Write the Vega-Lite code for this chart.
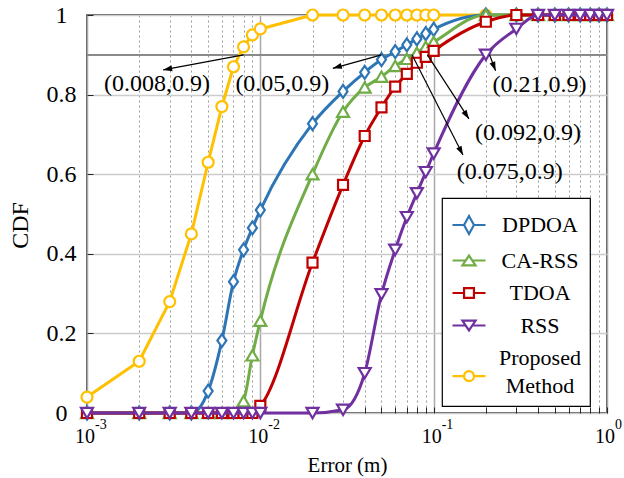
{
  "$schema": "https://vega.github.io/schema/vega-lite/v6.json",
  "width": 520,
  "height": 398,
  "autosize": {"type": "none"},
  "padding": {"left": 87, "top": 15, "right": 17, "bottom": 65},
  "background": "white",
  "config": {
    "font": "'Liberation Serif', 'Times New Roman', Times, serif",
    "view": {"stroke": "#262626", "strokeWidth": 1.5},
    "axis": {"labelFont": "'Liberation Serif', 'Times New Roman', Times, serif", "titleFont": "'Liberation Serif', 'Times New Roman', Times, serif", "labelColor": "black", "titleColor": "black", "titleFontWeight": "normal"},
    "legend": {"labelFont": "'Liberation Serif', 'Times New Roman', Times, serif"},
    "text": {"font": "'Liberation Serif', 'Times New Roman', Times, serif", "color": "black"}
  },
  "datasets": {
    "cdf": [
      {"m": "Proposed Method", "e": 0.001, "p": 0.04}, {"m": "Proposed Method", "e": 0.002, "p": 0.13}, {"m": "Proposed Method", "e": 0.003, "p": 0.28}, {"m": "Proposed Method", "e": 0.004, "p": 0.45}, {"m": "Proposed Method", "e": 0.005, "p": 0.63}, {"m": "Proposed Method", "e": 0.006, "p": 0.77}, {"m": "Proposed Method", "e": 0.007, "p": 0.87}, {"m": "Proposed Method", "e": 0.008, "p": 0.92}, {"m": "Proposed Method", "e": 0.009, "p": 0.95}, {"m": "Proposed Method", "e": 0.01, "p": 0.965},
      {"m": "Proposed Method", "e": 0.02, "p": 1}, {"m": "Proposed Method", "e": 0.03, "p": 1}, {"m": "Proposed Method", "e": 0.04, "p": 1}, {"m": "Proposed Method", "e": 0.05, "p": 1}, {"m": "Proposed Method", "e": 0.06, "p": 1}, {"m": "Proposed Method", "e": 0.07, "p": 1}, {"m": "Proposed Method", "e": 0.08, "p": 1}, {"m": "Proposed Method", "e": 0.09, "p": 1}, {"m": "Proposed Method", "e": 0.1, "p": 1},
      {"m": "Proposed Method", "e": 0.2, "p": 1}, {"m": "Proposed Method", "e": 0.3, "p": 1}, {"m": "Proposed Method", "e": 0.4, "p": 1}, {"m": "Proposed Method", "e": 0.5, "p": 1}, {"m": "Proposed Method", "e": 0.6, "p": 1}, {"m": "Proposed Method", "e": 0.7, "p": 1}, {"m": "Proposed Method", "e": 0.8, "p": 1}, {"m": "Proposed Method", "e": 0.9, "p": 1}, {"m": "Proposed Method", "e": 1, "p": 1},

      {"m": "DPDOA", "e": 0.001, "p": 0}, {"m": "DPDOA", "e": 0.002, "p": 0}, {"m": "DPDOA", "e": 0.003, "p": 0}, {"m": "DPDOA", "e": 0.004, "p": 0}, {"m": "DPDOA", "e": 0.005, "p": 0.055}, {"m": "DPDOA", "e": 0.006, "p": 0.182}, {"m": "DPDOA", "e": 0.007, "p": 0.33}, {"m": "DPDOA", "e": 0.008, "p": 0.41}, {"m": "DPDOA", "e": 0.009, "p": 0.465}, {"m": "DPDOA", "e": 0.01, "p": 0.51},
      {"m": "DPDOA", "e": 0.02, "p": 0.727}, {"m": "DPDOA", "e": 0.03, "p": 0.808}, {"m": "DPDOA", "e": 0.04, "p": 0.856}, {"m": "DPDOA", "e": 0.05, "p": 0.888}, {"m": "DPDOA", "e": 0.06, "p": 0.908}, {"m": "DPDOA", "e": 0.07, "p": 0.925}, {"m": "DPDOA", "e": 0.08, "p": 0.94}, {"m": "DPDOA", "e": 0.09, "p": 0.953}, {"m": "DPDOA", "e": 0.1, "p": 0.964},
      {"m": "DPDOA", "e": 0.2, "p": 1}, {"m": "DPDOA", "e": 0.3, "p": 1}, {"m": "DPDOA", "e": 0.4, "p": 1}, {"m": "DPDOA", "e": 0.5, "p": 1}, {"m": "DPDOA", "e": 0.6, "p": 1}, {"m": "DPDOA", "e": 0.7, "p": 1}, {"m": "DPDOA", "e": 0.8, "p": 1}, {"m": "DPDOA", "e": 0.9, "p": 1}, {"m": "DPDOA", "e": 1, "p": 1},

      {"m": "CA-RSS", "e": 0.001, "p": 0}, {"m": "CA-RSS", "e": 0.002, "p": 0}, {"m": "CA-RSS", "e": 0.003, "p": 0}, {"m": "CA-RSS", "e": 0.004, "p": 0}, {"m": "CA-RSS", "e": 0.005, "p": 0}, {"m": "CA-RSS", "e": 0.006, "p": 0}, {"m": "CA-RSS", "e": 0.007, "p": 0}, {"m": "CA-RSS", "e": 0.008, "p": 0.03}, {"m": "CA-RSS", "e": 0.009, "p": 0.145}, {"m": "CA-RSS", "e": 0.01, "p": 0.232},
      {"m": "CA-RSS", "e": 0.02, "p": 0.6}, {"m": "CA-RSS", "e": 0.03, "p": 0.757}, {"m": "CA-RSS", "e": 0.04, "p": 0.818}, {"m": "CA-RSS", "e": 0.05, "p": 0.845}, {"m": "CA-RSS", "e": 0.06, "p": 0.872}, {"m": "CA-RSS", "e": 0.07, "p": 0.89}, {"m": "CA-RSS", "e": 0.08, "p": 0.905}, {"m": "CA-RSS", "e": 0.09, "p": 0.92}, {"m": "CA-RSS", "e": 0.1, "p": 0.932},
      {"m": "CA-RSS", "e": 0.2, "p": 1}, {"m": "CA-RSS", "e": 0.3, "p": 1}, {"m": "CA-RSS", "e": 0.4, "p": 1}, {"m": "CA-RSS", "e": 0.5, "p": 1}, {"m": "CA-RSS", "e": 0.6, "p": 1}, {"m": "CA-RSS", "e": 0.7, "p": 1}, {"m": "CA-RSS", "e": 0.8, "p": 1}, {"m": "CA-RSS", "e": 0.9, "p": 1}, {"m": "CA-RSS", "e": 1, "p": 1},

      {"m": "TDOA", "e": 0.001, "p": 0}, {"m": "TDOA", "e": 0.002, "p": 0}, {"m": "TDOA", "e": 0.003, "p": 0}, {"m": "TDOA", "e": 0.004, "p": 0}, {"m": "TDOA", "e": 0.005, "p": 0}, {"m": "TDOA", "e": 0.006, "p": 0}, {"m": "TDOA", "e": 0.007, "p": 0}, {"m": "TDOA", "e": 0.008, "p": 0}, {"m": "TDOA", "e": 0.009, "p": 0}, {"m": "TDOA", "e": 0.01, "p": 0.018},
      {"m": "TDOA", "e": 0.02, "p": 0.378}, {"m": "TDOA", "e": 0.03, "p": 0.573}, {"m": "TDOA", "e": 0.04, "p": 0.696}, {"m": "TDOA", "e": 0.05, "p": 0.768}, {"m": "TDOA", "e": 0.06, "p": 0.82}, {"m": "TDOA", "e": 0.07, "p": 0.852}, {"m": "TDOA", "e": 0.08, "p": 0.88}, {"m": "TDOA", "e": 0.09, "p": 0.895}, {"m": "TDOA", "e": 0.1, "p": 0.91},
      {"m": "TDOA", "e": 0.2, "p": 0.983}, {"m": "TDOA", "e": 0.3, "p": 1}, {"m": "TDOA", "e": 0.4, "p": 1}, {"m": "TDOA", "e": 0.5, "p": 1}, {"m": "TDOA", "e": 0.6, "p": 1}, {"m": "TDOA", "e": 0.7, "p": 1}, {"m": "TDOA", "e": 0.8, "p": 1}, {"m": "TDOA", "e": 0.9, "p": 1}, {"m": "TDOA", "e": 1, "p": 1},

      {"m": "RSS", "e": 0.001, "p": 0}, {"m": "RSS", "e": 0.002, "p": 0}, {"m": "RSS", "e": 0.003, "p": 0}, {"m": "RSS", "e": 0.004, "p": 0}, {"m": "RSS", "e": 0.005, "p": 0}, {"m": "RSS", "e": 0.006, "p": 0}, {"m": "RSS", "e": 0.007, "p": 0}, {"m": "RSS", "e": 0.008, "p": 0}, {"m": "RSS", "e": 0.009, "p": 0}, {"m": "RSS", "e": 0.01, "p": 0},
      {"m": "RSS", "e": 0.02, "p": 0}, {"m": "RSS", "e": 0.03, "p": 0.008}, {"m": "RSS", "e": 0.04, "p": 0.1}, {"m": "RSS", "e": 0.05, "p": 0.298}, {"m": "RSS", "e": 0.06, "p": 0.41}, {"m": "RSS", "e": 0.07, "p": 0.492}, {"m": "RSS", "e": 0.08, "p": 0.552}, {"m": "RSS", "e": 0.09, "p": 0.605}, {"m": "RSS", "e": 0.1, "p": 0.652},
      {"m": "RSS", "e": 0.2, "p": 0.9}, {"m": "RSS", "e": 0.3, "p": 0.965}, {"m": "RSS", "e": 0.4, "p": 1}, {"m": "RSS", "e": 0.5, "p": 1}, {"m": "RSS", "e": 0.6, "p": 1}, {"m": "RSS", "e": 0.7, "p": 1}, {"m": "RSS", "e": 0.8, "p": 1}, {"m": "RSS", "e": 0.9, "p": 1}, {"m": "RSS", "e": 1, "p": 1}
    ],
    "notes": [
      {"label": "(0.008,0.9)", "px": 0.008, "py": 0.9, "hx": 0.00275, "hy": 0.862, "tx": 0.00253, "ty": 0.827},
      {"label": "(0.05,0.9)", "px": 0.05, "py": 0.9, "hx": 0.0262, "hy": 0.866, "tx": 0.0134, "ty": 0.827},
      {"label": "(0.21,0.9)", "px": 0.21, "py": 0.9, "hx": 0.2277, "hy": 0.86, "tx": 0.408, "ty": 0.824},
      {"label": "(0.092,0.9)", "px": 0.092, "py": 0.9, "hx": 0.1598, "hy": 0.739, "tx": 0.35, "ty": 0.7035},
      {"label": "(0.075,0.9)", "px": 0.075, "py": 0.9, "hx": 0.1476, "hy": 0.648, "tx": 0.275, "ty": 0.606}
    ],
    "decades": [
      {"v": 0.001, "exp": "-3"}, {"v": 0.01, "exp": "-2"}, {"v": 0.1, "exp": "-1"}, {"v": 1, "exp": "0"}
    ]
  },
  "data": {"name": "cdf"},
  "layer": [
    {
      "mark": {"type": "rule", "color": "#8a8a8a", "strokeWidth": 1.5},
      "encoding": {
        "y": {"datum": 0.9, "type": "quantitative", "scale": {"domain": [0, 1]}}
      }
    },
    {
      "mark": {"type": "line", "interpolate": "linear", "strokeWidth": 3, "strokeJoin": "round",
               "point": {"shape": "circle", "size": 121, "filled": false, "fill": "white", "strokeWidth": 2.2, "opacity": 1}},
      "transform": [{"filter": "datum.m == 'Proposed Method'"}],
      "encoding": {
        "x": {"field": "e", "type": "quantitative", "scale": {"type": "log", "domain": [0.001, 1], "nice": false},
              "axis": {
                "title": "Error (m)", "titleFontSize": 21, "titleY": 52, "titleBaseline": "middle",
                "labels": false, "domain": false,
                "values": [0.001,0.002,0.003,0.004,0.005,0.006,0.007,0.008,0.009,0.01,0.02,0.03,0.04,0.05,0.06,0.07,0.08,0.09,0.1,0.2,0.3,0.4,0.5,0.6,0.7,0.8,0.9,1],
                "tickSize": -6, "tickColor": "#262626", "tickWidth": 1,
                "grid": true,
                "gridColor": {"condition": {"test": "abs(log(datum.value)/LN10 - round(log(datum.value)/LN10)) < 0.000001", "value": "#a8a8a8"}, "value": "#9a9a9a"},
                "gridDash": {"condition": {"test": "abs(log(datum.value)/LN10 - round(log(datum.value)/LN10)) < 0.000001", "value": []}, "value": [2, 3]},
                "gridWidth": {"condition": {"test": "abs(log(datum.value)/LN10 - round(log(datum.value)/LN10)) < 0.000001", "value": 1.5}, "value": 1}
              }},
        "y": {"field": "p", "type": "quantitative", "scale": {"domain": [0, 1]},
              "axis": {
                "title": "CDF", "titleFontSize": 24, "titleX": -67, "titleY": 210, "titleAlign": "center", "titleBaseline": "middle",
                "values": [0,0.1,0.2,0.3,0.4,0.5,0.6,0.7,0.8,0.9,1],
                "labelExpr": "round(datum.value*10) % 2 == 0 ? toString(round(datum.value*10)/10) : ''",
                "labelAlign": "center", "labelBaseline": "middle", "labelFontSize": 24, "labelPadding": 32,
                "tickSize": -6, "tickColor": "#262626", "domain": false,
                "grid": true, "gridColor": "#cccccc", "gridWidth": 1.5
              }},
        "color": {"field": "m", "type": "nominal",
                  "scale": {"domain": ["DPDOA", "CA-RSS", "TDOA", "RSS", "Proposed Method"], "range": ["#2E75B6", "#70AD47", "#C00000", "#7030A0", "#FFC000"]},
                  "legend": {
                    "orient": "none", "legendX": 355, "legendY": 183, "title": null,
                    "fillColor": "white", "strokeColor": "black", "padding": 9,
                    "symbolSize": 1089, "symbolStrokeWidth": 2.2,
                    "labelFont": "'Liberation Serif', 'Times New Roman', Times, serif",
                    "labelFontSize": 22, "labelColor": "black",
                    "labelAlign": "center", "labelBaseline": "middle", "labelOffset": 53, "rowPadding": 3.5,
                    "labelExpr": "datum.label == 'Proposed Method' ? ['Proposed', 'Method'] : datum.label",
                    "encode": {
                      "symbols": {"update": {
                        "shape": {"signal": "datum.value == 'DPDOA' ? 'M-1,0H-0.3M0.3,0H1M0,-0.55L0.3,0L0,0.55L-0.3,0Z' : datum.value == 'CA-RSS' ? 'M-1,0H-0.2M0.2,0H1M0,-0.3L0.4,0.3L-0.4,0.3Z' : datum.value == 'TDOA' ? 'M-1,0H-0.3M0.3,0H1M-0.3,-0.3H0.3V0.3H-0.3Z' : datum.value == 'RSS' ? 'M-1,0H-0.2M0.2,0H1M0,0.3L0.4,-0.3L-0.4,-0.3Z' : 'M-1,1.1H-0.3M0.3,1.1H1M0.3,1.1A0.3,0.3 0 1,1 -0.3,1.1A0.3,0.3 0 1,1 0.3,1.1Z'"},
                        "fill": {"value": "white"},
                        "strokeWidth": {"value": 2.2},
                        "opacity": {"value": 1}
                      }},
                      "labels": {"update": {
                        "lineHeight": {"value": 28},
                        "font": {"value": "'Liberation Serif', 'Times New Roman', Times, serif"},
                        "fontSize": {"value": 22}
                      }},
                      "legend": {"update": {"strokeWidth": {"value": 1.2}}}
                    }
                  }}
      }
    },
    {
      "transform": [{"filter": "datum.m == 'DPDOA'"}],
      "mark": {"type": "line", "interpolate": "monotone", "strokeWidth": 3, "strokeJoin": "round",
               "point": {"shape": "M0,-1.3L0.9,0L0,1.3L-0.9,0Z", "size": 100, "filled": false, "fill": "white", "strokeWidth": 2.2, "opacity": 1}},
      "encoding": {
        "x": {"field": "e", "type": "quantitative", "scale": {"type": "log", "domain": [0.001, 1], "nice": false}},
        "y": {"field": "p", "type": "quantitative", "scale": {"domain": [0, 1]}},
        "color": {"field": "m", "type": "nominal", "scale": {"domain": ["DPDOA", "CA-RSS", "TDOA", "RSS", "Proposed Method"], "range": ["#2E75B6", "#70AD47", "#C00000", "#7030A0", "#FFC000"]}, "legend": null}
      }
    },
    {
      "transform": [{"filter": "datum.m == 'CA-RSS'"}],
      "mark": {"type": "line", "interpolate": "monotone", "strokeWidth": 3, "strokeJoin": "round",
               "point": {"shape": "triangle-up", "size": 144, "filled": false, "fill": "white", "strokeWidth": 2.2, "opacity": 1}},
      "encoding": {
        "x": {"field": "e", "type": "quantitative", "scale": {"type": "log", "domain": [0.001, 1], "nice": false}},
        "y": {"field": "p", "type": "quantitative", "scale": {"domain": [0, 1]}},
        "color": {"field": "m", "type": "nominal", "scale": {"domain": ["DPDOA", "CA-RSS", "TDOA", "RSS", "Proposed Method"], "range": ["#2E75B6", "#70AD47", "#C00000", "#7030A0", "#FFC000"]}, "legend": null}
      }
    },
    {
      "transform": [{"filter": "datum.m == 'TDOA'"}],
      "mark": {"type": "line", "interpolate": "monotone", "strokeWidth": 3, "strokeJoin": "round",
               "point": {"shape": "square", "size": 100, "filled": false, "fill": "white", "strokeWidth": 2.2, "opacity": 1}},
      "encoding": {
        "x": {"field": "e", "type": "quantitative", "scale": {"type": "log", "domain": [0.001, 1], "nice": false}},
        "y": {"field": "p", "type": "quantitative", "scale": {"domain": [0, 1]}},
        "color": {"field": "m", "type": "nominal", "scale": {"domain": ["DPDOA", "CA-RSS", "TDOA", "RSS", "Proposed Method"], "range": ["#2E75B6", "#70AD47", "#C00000", "#7030A0", "#FFC000"]}, "legend": null}
      }
    },
    {
      "transform": [{"filter": "datum.m == 'RSS'"}],
      "mark": {"type": "line", "interpolate": "monotone", "strokeWidth": 3, "strokeJoin": "round",
               "point": {"shape": "triangle-down", "size": 144, "filled": false, "fill": "white", "strokeWidth": 2.2, "opacity": 1}},
      "encoding": {
        "x": {"field": "e", "type": "quantitative", "scale": {"type": "log", "domain": [0.001, 1], "nice": false}},
        "y": {"field": "p", "type": "quantitative", "scale": {"domain": [0, 1]}},
        "color": {"field": "m", "type": "nominal", "scale": {"domain": ["DPDOA", "CA-RSS", "TDOA", "RSS", "Proposed Method"], "range": ["#2E75B6", "#70AD47", "#C00000", "#7030A0", "#FFC000"]}, "legend": null}
      }
    },
    {
      "data": {"name": "notes"},
      "mark": {"type": "rule", "color": "black", "strokeWidth": 1.2},
      "encoding": {
        "x": {"field": "px", "type": "quantitative", "scale": {"type": "log", "domain": [0.001, 1], "nice": false}},
        "y": {"field": "py", "type": "quantitative", "scale": {"domain": [0, 1]}},
        "x2": {"field": "hx"},
        "y2": {"field": "hy"}
      }
    },
    {
      "data": {"name": "notes"},
      "transform": [{"filter": "datum.label == '(0.008,0.9)'"}],
      "mark": {"type": "point", "shape": "M0,0L-0.33,1L0.33,1Z", "size": 324, "angle": 259.4, "filled": true, "color": "black", "opacity": 1},
      "encoding": {
        "x": {"field": "hx", "type": "quantitative", "scale": {"type": "log", "domain": [0.001, 1], "nice": false}},
        "y": {"field": "hy", "type": "quantitative", "scale": {"domain": [0, 1]}}
      }
    },
    {
      "data": {"name": "notes"},
      "transform": [{"filter": "datum.label == '(0.05,0.9)'"}],
      "mark": {"type": "point", "shape": "M0,0L-0.33,1L0.33,1Z", "size": 324, "angle": 254.5, "filled": true, "color": "black", "opacity": 1},
      "encoding": {
        "x": {"field": "hx", "type": "quantitative", "scale": {"type": "log", "domain": [0.001, 1], "nice": false}},
        "y": {"field": "hy", "type": "quantitative", "scale": {"domain": [0, 1]}}
      }
    },
    {
      "data": {"name": "notes"},
      "transform": [{"filter": "datum.label == '(0.21,0.9)'"}],
      "mark": {"type": "point", "shape": "M0,0L-0.33,1L0.33,1Z", "size": 324, "angle": 159, "filled": true, "color": "black", "opacity": 1},
      "encoding": {
        "x": {"field": "hx", "type": "quantitative", "scale": {"type": "log", "domain": [0.001, 1], "nice": false}},
        "y": {"field": "hy", "type": "quantitative", "scale": {"domain": [0, 1]}}
      }
    },
    {
      "data": {"name": "notes"},
      "transform": [{"filter": "datum.label == '(0.092,0.9)'"}],
      "mark": {"type": "point", "shape": "M0,0L-0.33,1L0.33,1Z", "size": 324, "angle": 147.1, "filled": true, "color": "black", "opacity": 1},
      "encoding": {
        "x": {"field": "hx", "type": "quantitative", "scale": {"type": "log", "domain": [0.001, 1], "nice": false}},
        "y": {"field": "hy", "type": "quantitative", "scale": {"domain": [0, 1]}}
      }
    },
    {
      "data": {"name": "notes"},
      "transform": [{"filter": "datum.label == '(0.075,0.9)'"}],
      "mark": {"type": "point", "shape": "M0,0L-0.33,1L0.33,1Z", "size": 324, "angle": 153, "filled": true, "color": "black", "opacity": 1},
      "encoding": {
        "x": {"field": "hx", "type": "quantitative", "scale": {"type": "log", "domain": [0.001, 1], "nice": false}},
        "y": {"field": "hy", "type": "quantitative", "scale": {"domain": [0, 1]}}
      }
    },
    {
      "data": {"name": "notes"},
      "mark": {"type": "text", "fontSize": 24, "align": "center", "baseline": "middle", "color": "black"},
      "encoding": {
        "x": {"field": "tx", "type": "quantitative", "scale": {"type": "log", "domain": [0.001, 1], "nice": false}},
        "y": {"field": "ty", "type": "quantitative", "scale": {"domain": [0, 1]}},
        "text": {"field": "label"}
      }
    },
    {
      "data": {"name": "decades"},
      "mark": {"type": "text", "fontSize": 20, "align": "center", "baseline": "middle", "dx": -2, "dy": 24, "color": "black"},
      "encoding": {
        "x": {"field": "v", "type": "quantitative", "scale": {"type": "log", "domain": [0.001, 1], "nice": false}},
        "y": {"datum": 0, "type": "quantitative", "scale": {"domain": [0, 1]}},
        "text": {"value": "10"}
      }
    },
    {
      "data": {"name": "decades"},
      "mark": {"type": "text", "fontSize": 14, "align": "left", "baseline": "middle", "dx": 8, "dy": 12, "color": "black"},
      "encoding": {
        "x": {"field": "v", "type": "quantitative", "scale": {"type": "log", "domain": [0.001, 1], "nice": false}},
        "y": {"datum": 0, "type": "quantitative", "scale": {"domain": [0, 1]}},
        "text": {"field": "exp"}
      }
    }
  ]
}
